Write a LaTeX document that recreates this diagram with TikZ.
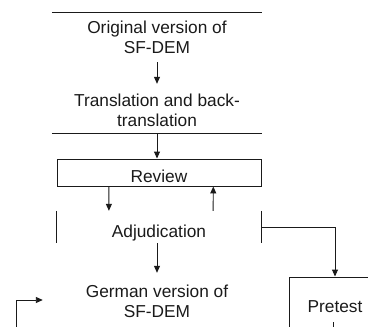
\documentclass[tikz,border=0pt]{standalone}
\usepackage{fontspec}
\setmainfont{Liberation Sans}
\usetikzlibrary{arrows.meta,calc}
\definecolor{ink}{HTML}{1A1A1A}
\begin{document}
\begin{tikzpicture}[x=1pt,y=-1pt,
  lbl/.style={inner sep=0pt, anchor=base, text=ink, font=\fontsize{17.3}{20.5}\selectfont},
  boxed/.style={lbl, draw=ink, line width=0.95pt},
  arr/.style={draw=ink, -{Triangle[length=7pt,width=6pt]}, line width=0.95pt},
  ln/.style={draw=ink, line width=0.95pt}]
\useasboundingbox (0,0) rectangle (368,327);
\clip (0,0) rectangle (368,327);
\node[lbl, minimum width=210pt, text height=20pt, text depth=29pt] (orig) at (157,33)
  {\begin{tabular}[t]{@{}c@{}}Original version of\\SF-DEM\end{tabular}};
\node[lbl, minimum width=210pt, text height=22pt, text depth=27pt] (trans) at (157,106)
  {\begin{tabular}[t]{@{}c@{}}Translation and back-\\translation\end{tabular}};
\node[boxed, minimum width=204pt, text height=23pt, text depth=4pt] (review) at (159,182) {Review};
\node[lbl, minimum width=204pt, text height=26pt, text depth=6pt] (adj) at (159,237) {Adjudication};
\node[lbl, minimum width=228pt, text height=24pt, text depth=30pt] (german) at (157,297)
  {\begin{tabular}[t]{@{}c@{}}German version of\\SF-DEM\end{tabular}};
\node[boxed, minimum width=92pt, text height=35pt, text depth=33pt] (pretest) at (335,312) {Pretest};
\coordinate (src) at (16,345);
\coordinate (ptick) at (333,322);
% rules
\draw[ln] (orig.north west) -- (orig.north east);
\draw[ln] (trans.south west) -- (trans.south east);
\draw[ln] (adj.north west) -- (adj.south west);
\draw[ln] (adj.north east) -- (adj.south east);
% arrows
\draw[arr] (orig.south) -- (trans.north);
\draw[arr] (trans.south) -- (trans.south |- review.north);
\draw[arr] ($(review.south west)!.255!(review.south east)$) -- ($(adj.north west)!.255!(adj.north east)$);
\draw[arr] ($(adj.north west)!.765!(adj.north east)$) -- ($(review.south west)!.765!(review.south east)$);
\draw[arr] (adj.south -| german.north) -- (german.north);
\draw[arr] (adj.east) -| (pretest.north);
\draw[arr] (src) |- (german.west);
\draw[ln] (ptick) -- (ptick |- pretest.south);
\end{tikzpicture}
\end{document}
